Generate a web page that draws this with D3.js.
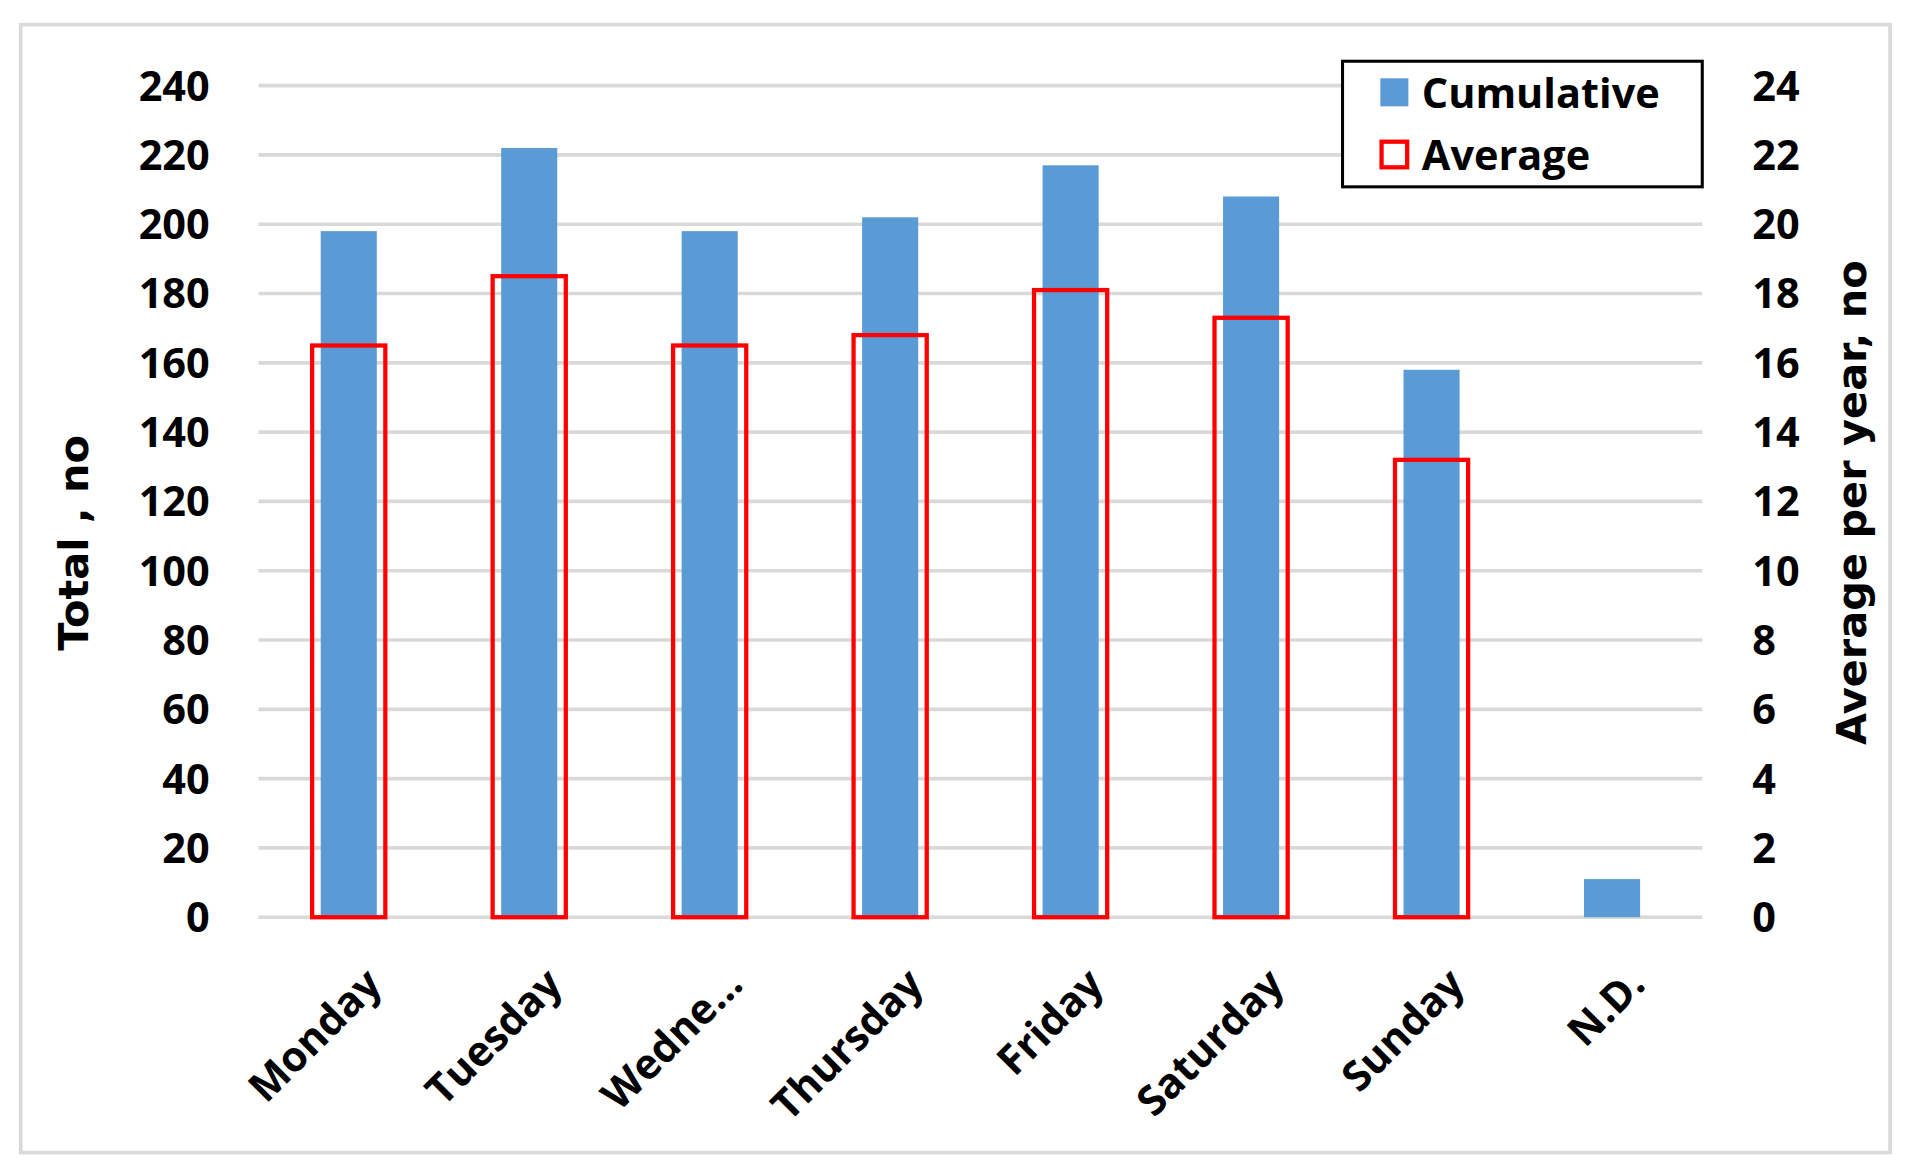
<!DOCTYPE html>
<html><head><meta charset="utf-8">
<script src="https://cdn.jsdelivr.net/npm/d3@7"></script>
<style>body{margin:0;background:#fff}</style></head>
<body><div id="vis"></div>
<script>
const days = ["Monday","Tuesday","Wedne...","Thursday","Friday","Saturday","Sunday","N.D."];
const cumulative = [198,222,198,202,217,208,158,11];
const average = [16.5,18.5,16.5,16.8,18.1,17.3,13.2,null];
const leftTicks = d3.range(0,241,20);
const rightTicks = d3.range(0,25,2);

const W = 1568, H = 964;
const svg = d3.select("#vis").append("svg")
  .attr("width",1912).attr("height",1176).attr("viewBox",[0,0,W,H]);

svg.append("rect").attr("x",17).attr("y",20).attr("width",1533).attr("height",925)
  .attr("fill","#fff").attr("stroke","#d9d9d9").attr("stroke-width",3);

const x = d3.scaleBand().domain(days).range([212,1396]);
const yL = d3.scaleLinear().domain([0,240]).range([752,70]);
const yR = d3.scaleLinear().domain([0,24]).range([752,70]);

const tickFont = "'Open Sans', sans-serif";
svg.append("g").selectAll("line").data(leftTicks).join("line")
  .attr("x1",212).attr("x2",1396).attr("y1",yL).attr("y2",yL)
  .attr("stroke","#d9d9d9").attr("stroke-width",3);

svg.append("g").selectAll("text").data(leftTicks).join("text")
  .attr("x",172).attr("y",d=>yL(d)).attr("dy","0.36em").attr("text-anchor","end")
  .attr("font-family",tickFont).attr("font-weight",700).attr("font-size",34).text(d=>d);
svg.append("g").selectAll("text").data(rightTicks).join("text")
  .attr("x",1437).attr("y",d=>yR(d)).attr("dy","0.36em")
  .attr("font-family",tickFont).attr("font-weight",700).attr("font-size",34).text(d=>d);

const cx = d => x(d)+x.bandwidth()/2;
svg.append("g").selectAll("rect").data(days).join("rect")
  .attr("x",d=>cx(d)-23).attr("width",46)
  .attr("y",(d,i)=>yL(cumulative[i])).attr("height",(d,i)=>752-yL(cumulative[i]))
  .attr("fill","#5b9bd5");
svg.append("g").selectAll("rect").data(days.filter((d,i)=>average[i]!=null)).join("rect")
  .attr("x",d=>cx(d)-30).attr("width",60)
  .attr("y",(d,i)=>yR(average[i])).attr("height",(d,i)=>752-yR(average[i]))
  .attr("fill","none").attr("stroke","#ff0000").attr("stroke-width",3.5);

svg.append("g").selectAll("text").data(days).join("text")
  .attr("transform",d=>`translate(${cx(d)+12},${792}) rotate(-45)`)
  .attr("text-anchor","end").attr("dy","0.7em")
  .attr("font-family",tickFont).attr("font-weight",700).attr("font-size",34).text(d=>d);

svg.append("text").attr("transform","translate(72,445) rotate(-90)").attr("text-anchor","middle")
  .attr("font-family","'DejaVu Sans', sans-serif").attr("font-weight",700).attr("font-size",34)
  .text("Total , no");
svg.append("text").attr("transform","translate(1530,412) rotate(-90)").attr("text-anchor","middle")
  .attr("font-family","'DejaVu Sans', sans-serif").attr("font-weight",700).attr("font-size",34)
  .text("Average per year, no");

const lg = svg.append("g");
lg.append("rect").attr("x",1101).attr("y",50).attr("width",295).attr("height",103)
  .attr("fill","#fff").attr("stroke","#000").attr("stroke-width",2.5);
lg.append("rect").attr("x",1132).attr("y",64).attr("width",23).attr("height",23).attr("fill","#5b9bd5");
lg.append("rect").attr("x",1133).attr("y",116).attr("width",21).attr("height",21)
  .attr("fill","none").attr("stroke","#ff0000").attr("stroke-width",3.5);
lg.append("text").attr("x",1166).attr("y",76).attr("dy","0.36em").attr("font-family",tickFont)
  .attr("font-weight",700).attr("font-size",34).text("Cumulative");
lg.append("text").attr("x",1166).attr("y",127).attr("dy","0.36em").attr("font-family",tickFont)
  .attr("font-weight",700).attr("font-size",34).text("Average");
</script></body></html>
